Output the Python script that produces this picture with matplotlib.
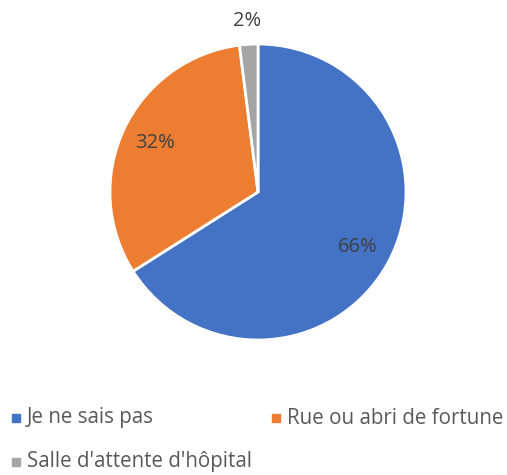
import numpy as np
import matplotlib.pyplot as plt
from matplotlib.patches import Rectangle

labels = ["Je ne sais pas", "Rue ou abri de fortune", "Salle d'attente d'hôpital"]
values = [66, 32, 2]
colors = ["#4472C4", "#ED7D31", "#A5A5A5"]

plt.rcParams['font.family'] = ['Open Sans', 'DejaVu Sans']

fig = plt.figure(figsize=(5.07, 4.75), dpi=100)
ax = fig.add_axes([0, 0, 1, 1])

cx, cy, r = 258, 475 - 192, 148
wedges, texts, pcts = ax.pie(values, colors=colors, startangle=90, counterclock=False,
                             center=(cx, cy), radius=r, autopct='%d%%', pctdistance=0.77,
                             wedgeprops=dict(edgecolor='white', linewidth=2),
                             textprops=dict(color='#404040', fontsize=14.5), frame=True)
ax.axis('off')
ax.set_xlim(0, 507)
ax.set_ylim(0, 475)
ax.set_aspect('equal')

# small slice label sits outside
ang = np.deg2rad(90 - 360 * (values[0] + values[1] + values[2] / 2) / 100)
pcts[2].set_position((cx + 1.16 * r * np.cos(ang), cy + 1.16 * r * np.sin(ang)))

# legend
pos = [(12, 475 - 418), (272, 475 - 418), (12, 475 - 462)]
for (x, y), lab, c in zip(pos, labels, colors):
    ax.add_patch(Rectangle((x, y - 4), 8, 8, color=c))
    ax.text(x + 15, y, lab, fontsize=14.8, color='#595959', va='center', ha='left')

fig.savefig('out.png', dpi=100)
